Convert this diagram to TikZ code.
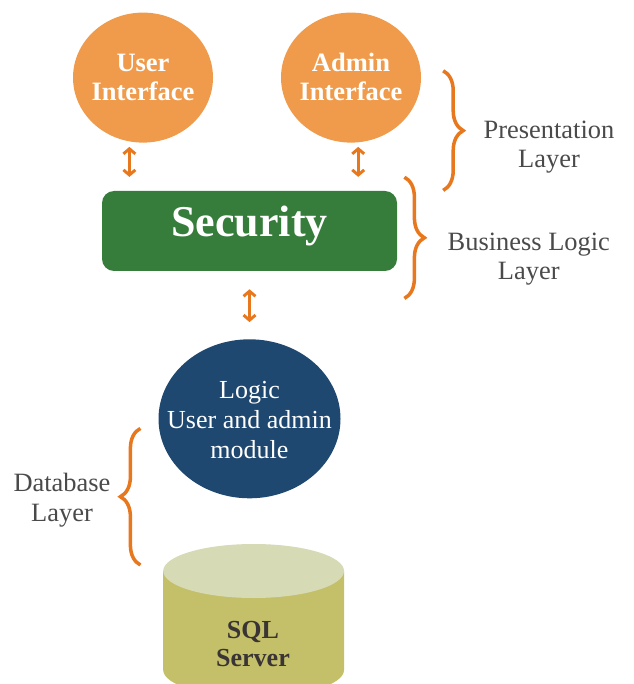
\documentclass[tikz,border=0pt]{standalone}
\usepackage{fontspec}
\setmainfont{Liberation Serif}
\usetikzlibrary{shapes.geometric,arrows.meta,decorations.pathreplacing}

\definecolor{ifaceorange}{HTML}{F09B4B}
\definecolor{linkorange}{HTML}{E8781E}
\definecolor{secgreen}{HTML}{367C3A}
\definecolor{logicblue}{HTML}{1F4870}
\definecolor{sqlbody}{HTML}{C4BF69}
\definecolor{sqltop}{HTML}{D6DAB5}
\definecolor{labelgray}{HTML}{4A4A4A}
\definecolor{sqlgray}{HTML}{3A3434}

\tikzset{
  iface/.style={ellipse, fill=ifaceorange, minimum width=3.5cm, minimum height=3.25cm, inner sep=0pt},
  ifacetext/.style={text=white, font=\fontsize{18.85}{20.8}\selectfont\bfseries, align=center},
  secbox/.style={rectangle, rounded corners=0.3cm, fill=secgreen, text=white,
    minimum width=7.375cm, minimum height=2cm, inner sep=0pt,
    text height=21.3pt, text depth=13.2pt, font=\fontsize{31.3}{34}\selectfont\bfseries},
  logicbox/.style={ellipse, fill=logicblue, minimum width=4.55cm, minimum height=3.975cm, inner sep=0pt},
  logictext/.style={text=white, font=\fontsize{18.5}{21.3}\selectfont, align=center},
  sqltext/.style={text=sqlgray, font=\fontsize{18.5}{19.9}\selectfont\bfseries, align=center},
  layertext/.style={text=labelgray, font=\fontsize{18.8}{21}\selectfont, align=center},
  updown/.style={{Straight Barb[length=3.6pt,width=8.5pt]}-{Straight Barb[length=3.6pt,width=8.5pt]},
    line width=2.1pt, draw=linkorange},
  layerbrace/.style={decorate, decoration={brace, amplitude=0.5cm}, line width=2.5pt, draw=linkorange},
}

\begin{document}
\begin{tikzpicture}
        \clip (0,0) rectangle (15.825,-17.1);

        % interfaces
        \node[iface] (user) at (3.575,-1.94) {};
        \node[ifacetext] (usertext) at (3.575,-1.93) {User\\Interface};
        \node[iface] (admin) at (8.775,-1.94) {};
        \node[ifacetext] (admintext) at (8.775,-1.93) {Admin\\Interface};

        % security
        \node[secbox] (security) at (6.2375,-5.775) {Security};

        % logic
        \node[logicbox] (logic) at (6.2375,-10.47) {};
        \node[logictext] (logictext) at (6.2375,-10.49) {Logic\\User and admin\\module};

        % database cylinder
        \fill[sqlbody] (4.08,-14.275) -- (4.08,-16.75) arc (180:360:2.26 and 0.675) -- (8.6,-14.275) -- cycle;
        \fill[sqltop] (6.34,-14.275) ellipse (2.26 and 0.675);
        \node[sqltext] (sql) at (6.325,-16.1) {SQL\\Server};

        % links
        \draw[updown] ([xshift=-0.34cm,yshift=-0.1cm]user.south) -- ++(0,-0.75);
        \draw[updown] ([xshift=0.18cm,yshift=-0.1cm]admin.south) -- ++(0,-0.75);
        \draw[updown] ([yshift=-0.45cm]security.south) -- ++(0,-0.82);

        % layers
        \coordinate (prestop) at (11.08,-1.77);
        \coordinate (presbot) at (11.08,-4.76);
        \draw[layerbrace] (prestop) -- (presbot);
        \node[layertext] (prestext) at (13.725,-3.68) {Presentation\\Layer};

        \coordinate (bustop) at (10.11,-4.43);
        \coordinate (busbot) at (10.11,-7.46);
        \draw[layerbrace] (bustop) -- (busbot);
        \node[layertext] (bustext) at (13.22,-6.48) {Business Logic\\Layer};

        \coordinate (dbtop) at (3.51,-10.71);
        \coordinate (dbbot) at (3.51,-14.125);
        \draw[layerbrace] (dbbot) -- (dbtop);
        \node[layertext] (dbtext) at (1.55,-12.51) {Database\\Layer};
    \end{tikzpicture}
\end{document}
